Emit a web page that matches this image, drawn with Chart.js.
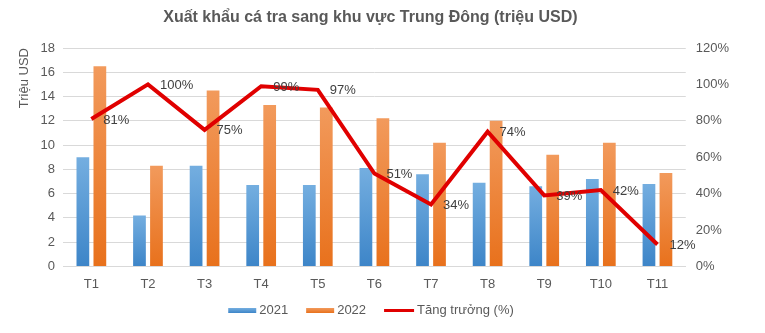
<!DOCTYPE html>
<html>
<head>
<meta charset="utf-8">
<script src="https://cdn.jsdelivr.net/npm/chart.js@4/dist/chart.umd.min.js"></script>
<style>
  html, body { margin: 0; padding: 0; background: #ffffff; }
  #wrap { width: 765px; height: 333px; }
</style>
</head>
<body>
<div id="wrap"><canvas id="c" width="765" height="333"></canvas></div>
<script>
// Months
const months = ['T1', 'T2', 'T3', 'T4', 'T5', 'T6', 'T7', 'T8', 'T9', 'T10', 'T11'];
// Export value, million USD
const value2021 = [9.0, 4.2, 8.3, 6.7, 6.7, 8.1, 7.6, 6.9, 6.6, 7.2, 6.8];
const value2022 = [16.5, 8.3, 14.5, 13.3, 13.1, 12.2, 10.2, 12.0, 9.2, 10.2, 7.7];
// Year-on-year growth, %
const growth = [81, 100, 75, 99, 97, 51, 34, 74, 39, 42, 12];

const chartTitle = 'Xuất khẩu cá tra sang khu vực Trung Đông (triệu USD)';

const FONT = "'Liberation Sans', Arial, sans-serif";
const TXT = '#595959';
const BLUE_TOP = '#74aee0', BLUE_BOT = '#3d85c8';
const ORANGE_TOP = '#f29a5c', ORANGE_BOT = '#e8711c';
const RED = '#e00000';

// Vertical gradient per bar: lighter at the top, deeper at the base
function barGradient(top, bottom) {
  return function (ctx) {
    const chart = ctx.chart;
    const yScale = chart.scales.y;
    if (!chart.chartArea || !yScale || ctx.raw === undefined) return bottom;
    const yTop = yScale.getPixelForValue(ctx.raw);
    const yBase = yScale.getPixelForValue(0);
    if (!isFinite(yTop) || !isFinite(yBase) || yTop === yBase) return bottom;
    const g = chart.ctx.createLinearGradient(0, yTop, 0, yBase);
    g.addColorStop(0, top);
    g.addColorStop(1, bottom);
    return g;
  };
}

// Percentage labels to the right of each growth point
const growthLabels = {
  id: 'growthLabels',
  afterDatasetsDraw(chart) {
    const idx = chart.data.datasets.findIndex(d => d.type === 'line');
    const meta = chart.getDatasetMeta(idx);
    const c = chart.ctx;
    c.save();
    c.font = '13px ' + FONT;
    c.fillStyle = '#404040';
    c.textAlign = 'left';
    c.textBaseline = 'middle';
    meta.data.forEach((pt, i) => {
      c.fillText(growth[i] + '%', pt.x + 12, pt.y + 1);
    });
    c.restore();
  }
};

// Title centred over the plot, and a compact legend row underneath
const frame = {
  id: 'frame',
  afterDraw(chart) {
    const c = chart.ctx;
    const area = chart.chartArea;
    c.save();
    c.fillStyle = TXT;
    c.textBaseline = 'middle';

    c.font = 'bold 16px ' + FONT;
    c.textAlign = 'center';
    c.fillText(chartTitle, (area.left + area.right) / 2 - 4, 18);

    c.font = '13px ' + FONT;
    c.textAlign = 'left';
    const y = 310.5;
    const items = chart.data.datasets.map(ds => ({
      text: ds.label,
      color: ds.type === 'line' ? RED : null,
      grad: ds.type === 'line' ? null : (ds.label === '2021' ? [BLUE_TOP, BLUE_BOT] : [ORANGE_TOP, ORANGE_BOT]),
      line: ds.type === 'line'
    }));
    const boxW = 28, gapText = 3, gapItem = 18;
    const total = items.reduce((s, it) => s + boxW + gapText + c.measureText(it.text).width, 0) + gapItem * (items.length - 1);
    let x = 370 - total / 2;
    items.forEach(it => {
      if (it.line) {
        c.fillStyle = it.color;
        c.fillRect(x, y - 1.5, boxW + 2, 3);
      } else {
        const g = c.createLinearGradient(0, y - 2.5, 0, y + 2.5);
        g.addColorStop(0, it.grad[0]);
        g.addColorStop(1, it.grad[1]);
        c.fillStyle = g;
        c.fillRect(x, y - 2.5, boxW, 5);
      }
      x += boxW + gapText + (it.line ? 2 : 0);
      c.fillStyle = TXT;
      c.fillText(it.text, x, y);
      x += c.measureText(it.text).width + gapItem;
    });
    c.restore();
  }
};

new Chart(document.getElementById('c'), {
  data: {
    labels: months,
    datasets: [
      {
        type: 'bar',
        label: '2021',
        data: value2021,
        yAxisID: 'y',
        backgroundColor: barGradient(BLUE_TOP, BLUE_BOT),
        borderWidth: 0,
        categoryPercentage: 0.6,
        barPercentage: 0.75,
        order: 1
      },
      {
        type: 'bar',
        label: '2022',
        data: value2022,
        yAxisID: 'y',
        backgroundColor: barGradient(ORANGE_TOP, ORANGE_BOT),
        borderWidth: 0,
        categoryPercentage: 0.6,
        barPercentage: 0.75,
        order: 1
      },
      {
        type: 'line',
        label: 'Tăng trưởng (%)',
        data: growth,
        yAxisID: 'y1',
        borderColor: RED,
        backgroundColor: RED,
        borderWidth: 4,
        pointRadius: 0,
        tension: 0,
        order: 0
      }
    ]
  },
  options: {
    responsive: false,
    animation: false,
    layout: { padding: { left: 17, right: 26, top: 48, bottom: 39 } },
    plugins: {
      title: { display: false },
      legend: { display: false },
      tooltip: { enabled: false }
    },
    scales: {
      x: {
        grid: { display: false },
        border: { color: '#d9d9d9' },
        ticks: { color: TXT, font: { family: FONT, size: 13 }, padding: 2 }
      },
      y: {
        position: 'left',
        min: 0,
        max: 18,
        ticks: { stepSize: 2, color: TXT, font: { family: FONT, size: 13 }, padding: 8 },
        grid: { color: '#d9d9d9', drawTicks: false },
        border: { display: false },
        title: {
          display: true,
          text: 'Triệu USD',
          align: 'end',
          color: TXT,
          font: { family: FONT, size: 13 },
          padding: 0
        }
      },
      y1: {
        position: 'right',
        min: 0,
        max: 120,
        ticks: {
          stepSize: 20,
          color: TXT,
          font: { family: FONT, size: 13 },
          padding: 10,
          callback: v => v + '%'
        },
        grid: { display: false, drawTicks: false },
        border: { display: false }
      }
    }
  },
  plugins: [growthLabels, frame]
});
</script>
</body>
</html>
